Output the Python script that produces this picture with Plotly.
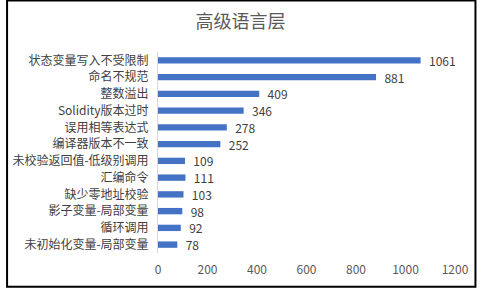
import plotly.graph_objects as go

categories = ["状态变量写入不受限制", "命名不规范", "整数溢出", "Solidity版本过时", "误用相等表达式",
              "编译器版本不一致", "未校验返回值-低级别调用", "汇编命令", "缺少零地址校验",
              "影子变量-局部变量", "循环调用", "未初始化变量-局部变量"]
values = [1061, 881, 409, 346, 278, 252, 109, 111, 103, 98, 92, 78]
x_ticks = [0, 200, 400, 600, 800, 1000, 1200]

font = "Noto Sans CJK SC"
fig = go.Figure(go.Bar(
    x=values, y=categories, orientation="h",
    marker=dict(color="#4472C4", line=dict(width=0)),
    texttemplate="  %{x}", textposition="outside", constraintext="none",
    textfont=dict(family=font, size=12, color="#404040"),
    cliponaxis=False, width=0.38,
))
fig.update_layout(
    width=481, height=289,
    margin=dict(l=155, r=21, t=52, b=34),
    paper_bgcolor="white", plot_bgcolor="white",
    title=dict(text="高级语言层", x=0.5, xanchor="center", y=0.925, yanchor="middle",
               font=dict(family=font, size=18, color="#595959")),
    showlegend=False,
    xaxis=dict(range=[0, 1200], tickvals=x_ticks, showgrid=False, zeroline=False,
               showline=False, ticks="", ticklabelstandoff=8,
               tickfont=dict(family=font, size=12, color="#595959")),
    yaxis=dict(autorange="reversed", showgrid=False, zeroline=False,
               showline=True, linecolor="#D9D9D9", linewidth=1, ticks="",
               ticklabelstandoff=6,
               tickfont=dict(family=font, size=12, color="#404040")),
)
fig.add_shape(type="rect", xref="paper", yref="paper",
              x0=-155/305, x1=1+21/305, y0=-34/203, y1=1+52/203,
              line=dict(color="black", width=2))
fig.write_html("out.html")
